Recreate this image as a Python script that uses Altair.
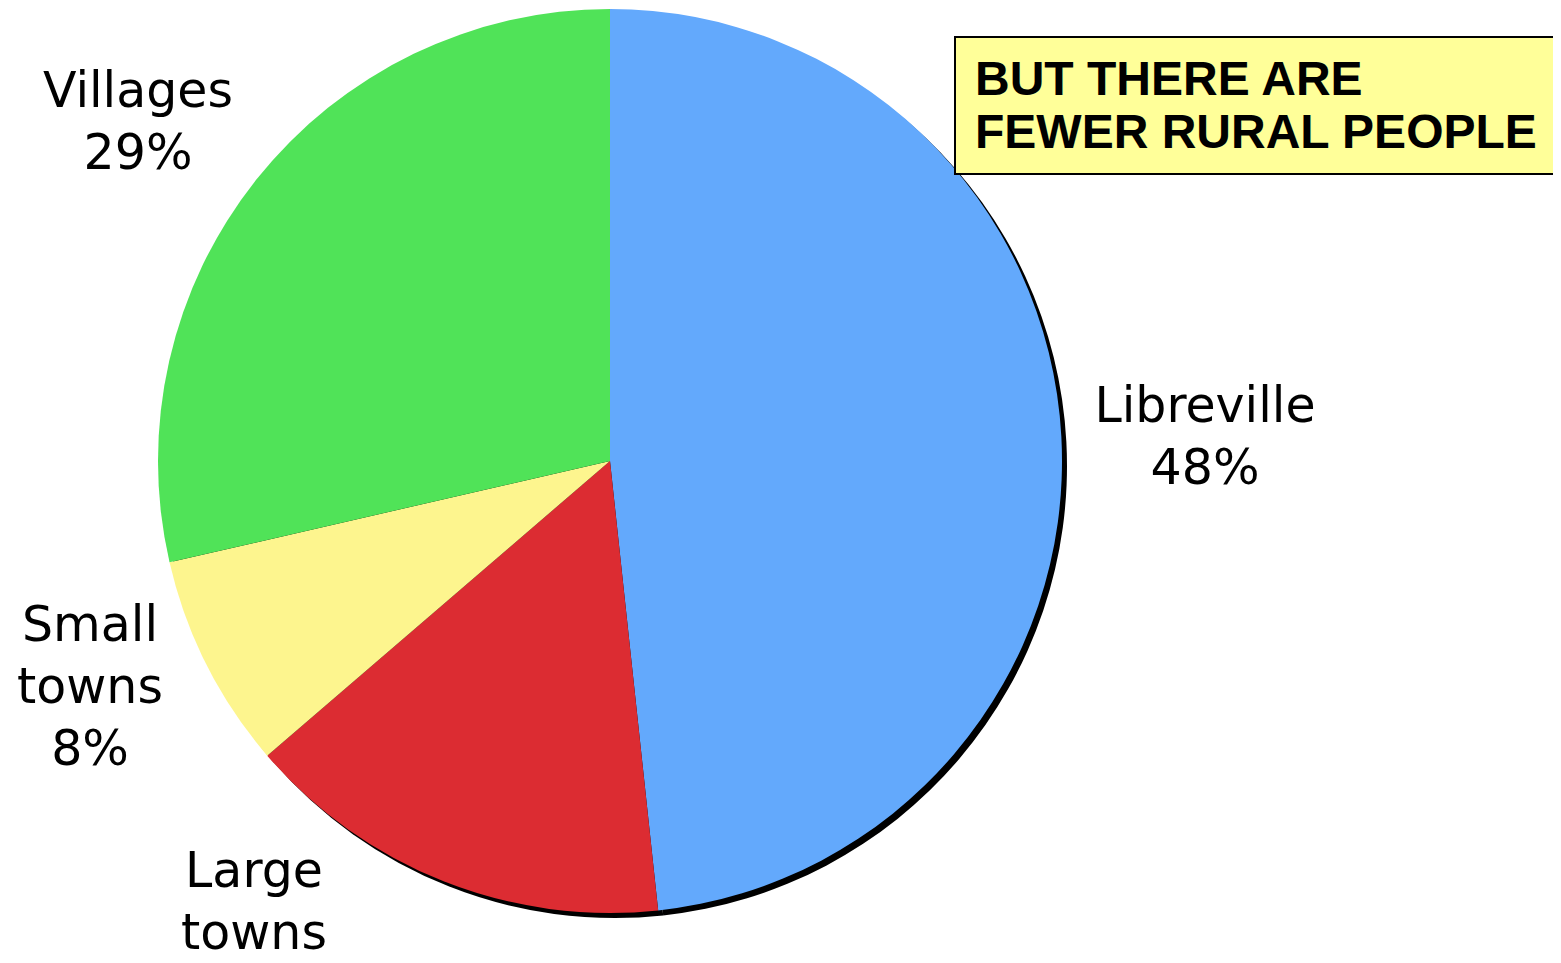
import altair as alt
import pandas as pd

# ---- data ----
categories = ["Libreville", "Large towns", "Small towns", "Villages"]
shares = [48.3, 15.4, 7.7, 28.6]
pct_labels = ["48%", "15%", "8%", "29%"]
colors = ["#63A9FC", "#DC2C32", "#FDF58E", "#50E358"]
box_lines = ["BUT THERE ARE", "FEWER RURAL PEOPLE"]

df = pd.DataFrame({
    "category": categories,
    "share": shares,
    "order": list(range(len(categories))),
})

# ---- layout (chart pixel coordinates) ----
W, H = 1545, 947
CX, CY, R = 602, 453, 452
SHADOW = 5

color_scale = alt.Scale(domain=categories, range=colors)

shadow = alt.Chart(df).mark_arc(outerRadius=R, color="black", stroke=None).encode(
    theta=alt.Theta("share:Q", stack=True),
    order=alt.Order("order:O"),
    x=alt.value(CX + SHADOW),
    y=alt.value(CY + SHADOW),
)

pie = alt.Chart(df).mark_arc(outerRadius=R, strokeWidth=0).encode(
    theta=alt.Theta("share:Q", stack=True),
    color=alt.Color("category:N", scale=color_scale, legend=None),
    order=alt.Order("order:O"),
    x=alt.value(CX),
    y=alt.value(CY),
)

# label anchors: (center x, first baseline y, split name into lines?, show percent?)
# (the Large towns percent falls below the picture's bottom edge in the reference)
label_pos = {
    "Libreville": (1197, 414, False, True),
    "Villages": (130, 99, False, True),
    "Small towns": (82, 633, True, True),
    "Large towns": (246, 879, True, False),
}

label_layers = []
for cat, pct in zip(categories, pct_labels):
    lx, ly, split, show_pct = label_pos[cat]
    name = cat.replace(" ", "\n") if split else cat
    txt = name + ("\n" + pct if show_pct else "")
    ldf = pd.DataFrame({"txt": [txt]})
    label_layers.append(
        alt.Chart(ldf).mark_text(
            font="DejaVu Sans", fontSize=49, color="black", align="center",
            baseline="alphabetic", lineBreak="\n", lineHeight=62,
        ).encode(text="txt:N", x=alt.value(lx), y=alt.value(ly))
    )

box_df = pd.DataFrame({"txt": ["\n".join(box_lines)]})
box = alt.Chart(box_df).mark_rect(
    fill="#FFFF99", stroke="black", strokeWidth=2
).encode(x=alt.value(947), x2=alt.value(1600), y=alt.value(29), y2=alt.value(166))

box_text = alt.Chart(box_df).mark_text(
    font="Liberation Sans", fontWeight="bold", fontSize=48, color="black",
    align="left", baseline="alphabetic", lineBreak="\n", lineHeight=53,
).encode(text="txt:N", x=alt.value(967), y=alt.value(87))

chart = alt.layer(shadow, pie, *label_layers, box, box_text).properties(
    width=W, height=H, padding=0, autosize=alt.AutoSizeParams(type="none")
).configure_view(stroke=None)

chart.save("out.html", embed_options={"renderer": "svg", "actions": False})
